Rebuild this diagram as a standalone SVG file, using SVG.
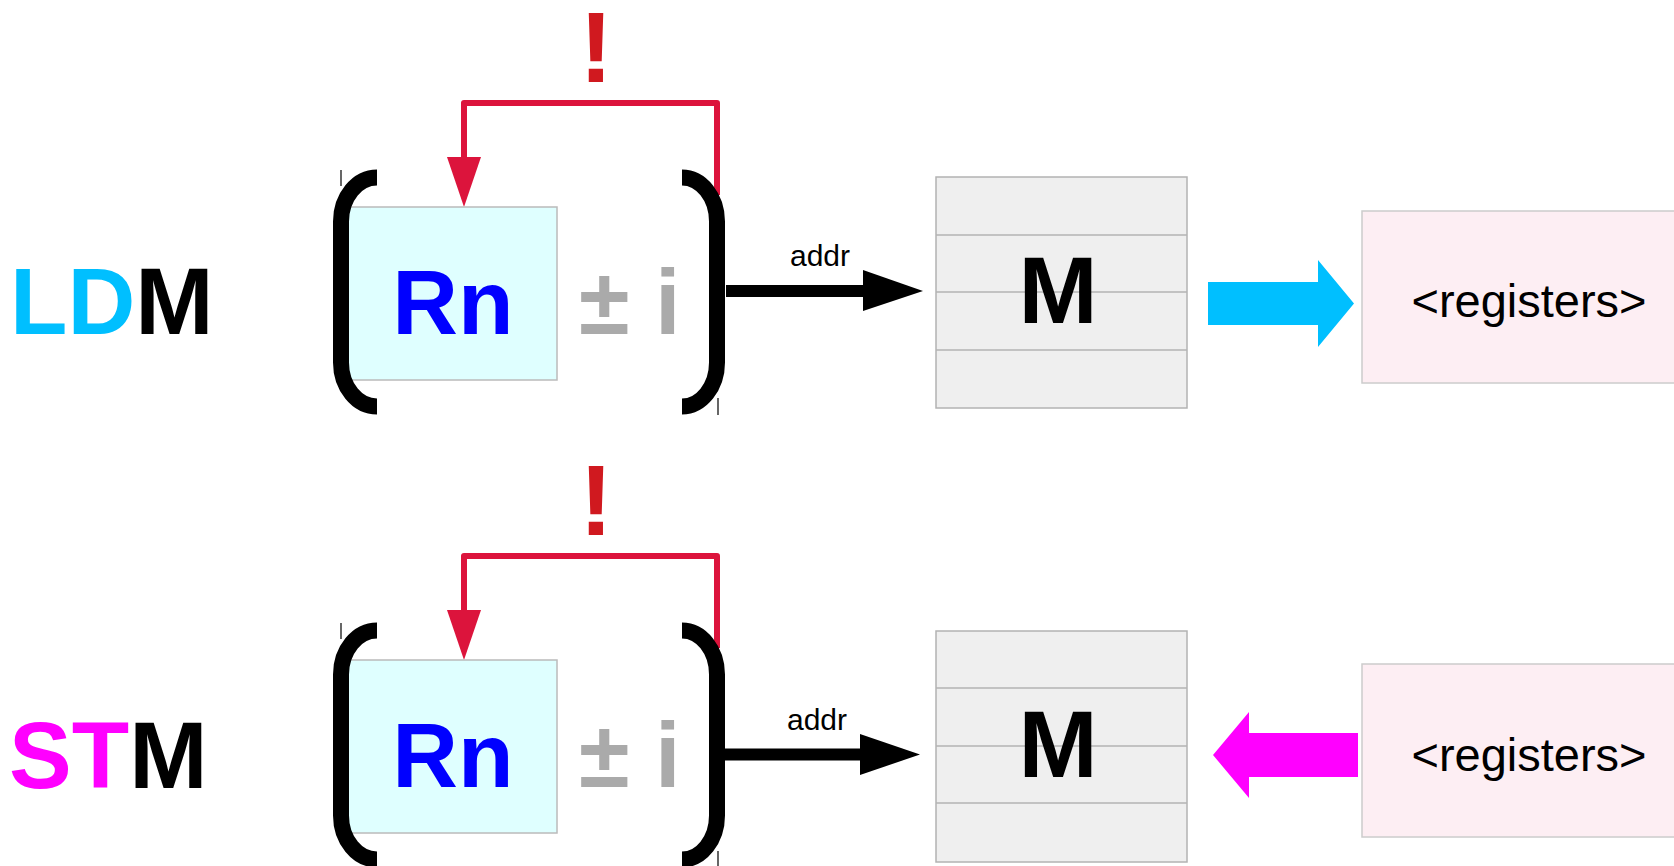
<svg xmlns="http://www.w3.org/2000/svg" width="1674" height="866" viewBox="0 0 1674 866">
<style>
text{font-family:"Liberation Sans",Arial,sans-serif}
.big{font-size:94px;font-weight:bold}
.bang{font-size:101px;font-weight:bold;fill:#d0191f;text-anchor:middle}
.rn{fill:#0000ff;font-size:91px;font-weight:bold;text-anchor:middle}
.pm{fill:#aaaaaa;font-size:92px;font-weight:bold}
.addr{font-size:30px;text-anchor:middle}
.mt{font-size:95px;font-weight:bold;text-anchor:middle}
.reg{font-size:47px;text-anchor:middle}
.rnbox{fill:#dfffff;stroke:#bbbbbb;stroke-width:1.5}
.mbox{fill:#efefef;stroke:#b3b3b3;stroke-width:1.5}
.mline{stroke:#b3b3b3;stroke-width:1.5}
.regbox{fill:#fdeef3;stroke:#cccccc;stroke-width:1.5}
.brk{fill:none;stroke:#000;stroke-width:16}
.tick{stroke:#000;stroke-width:1.2}
.red{fill:none;stroke:#dc143c;stroke-width:6;stroke-linejoin:round}
</style>
<g id="connectors">
  <path class="red" d="M717 195 L717 103 L464 103 L464 160"/>
  <polygon points="447,157 481,157 464,207" fill="#dc143c"/>
  <path class="red" d="M717 648 L717 556 L464 556 L464 613"/>
  <polygon points="447,610 481,610 464,660" fill="#dc143c"/>
  <line x1="726" y1="291" x2="865" y2="291" stroke="#000" stroke-width="12"/>
  <polygon points="863,270 923,291 863,311" fill="#000"/>
  <line x1="722" y1="754.5" x2="862" y2="754.5" stroke="#000" stroke-width="12"/>
  <polygon points="860,734 920,754.5 860,775" fill="#000"/>
  <polygon points="1208,282 1318,282 1318,260 1354,303.5 1318,347 1318,325 1208,325" fill="#00bfff"/>
  <polygon points="1358,733 1249,733 1249,712 1213,755 1249,798 1249,777 1358,777" fill="#ff00ff"/>
</g>
<g id="ldm-label">
  <text x="10" y="334" class="big"><tspan fill="#00bfff">LD</tspan><tspan fill="#000">M</tspan></text>
</g>
<g id="stm-label">
  <text x="9" y="788" class="big"><tspan fill="#ff00ff">ST</tspan><tspan fill="#000">M</tspan></text>
</g>
<g id="bang1"><text x="596" y="82" class="bang">!</text></g>
<g id="bang2"><text x="596" y="535" class="bang">!</text></g>
<g id="rn1">
  <rect class="rnbox" x="348" y="207" width="209" height="173"/>
  <text x="453" y="334" class="rn">Rn</text>
</g>
<g id="rn2">
  <rect class="rnbox" x="348" y="660" width="209" height="173"/>
  <text x="453" y="787" class="rn">Rn</text>
</g>
<g id="offset1"><text x="579" y="334" class="pm">± i</text></g>
<g id="offset2"><text x="579" y="787" class="pm">± i</text></g>
<g id="brackets1">
  <path class="brk" d="M377 177.5 A36 44 0 0 0 341 221.5 L341 362.5 A36 44 0 0 0 377 406.5"/>
  <path class="brk" d="M682 177.5 A35 44 0 0 1 717 221.5 L717 362.5 A35 44 0 0 1 682 406.5"/>
  <line class="tick" x1="341" y1="170" x2="341" y2="186"/>
  <line class="tick" x1="718" y1="398" x2="718" y2="415"/>
</g>
<g id="brackets2">
  <path class="brk" d="M377 630.5 A36 44 0 0 0 341 674.5 L341 815.5 A36 44 0 0 0 377 859.5"/>
  <path class="brk" d="M682 630.5 A35 44 0 0 1 717 674.5 L717 815.5 A35 44 0 0 1 682 859.5"/>
  <line class="tick" x1="341" y1="623" x2="341" y2="639"/>
  <line class="tick" x1="718" y1="851" x2="718" y2="866"/>
</g>
<g id="addr1"><text x="820" y="266" class="addr">addr</text></g>
<g id="addr2"><text x="817" y="730" class="addr">addr</text></g>
<g id="mem1">
  <rect class="mbox" x="936" y="177" width="251" height="231"/>
  <line class="mline" x1="936" y1="235" x2="1187" y2="235"/>
  <line class="mline" x1="936" y1="292" x2="1187" y2="292"/>
  <line class="mline" x1="936" y1="350" x2="1187" y2="350"/>
  <text x="1058" y="323" class="mt">M</text>
</g>
<g id="mem2">
  <rect class="mbox" x="936" y="631" width="251" height="231"/>
  <line class="mline" x1="936" y1="688" x2="1187" y2="688"/>
  <line class="mline" x1="936" y1="746" x2="1187" y2="746"/>
  <line class="mline" x1="936" y1="803" x2="1187" y2="803"/>
  <text x="1058" y="777" class="mt">M</text>
</g>
<g id="regs1">
  <rect class="regbox" x="1362" y="211" width="330" height="172"/>
  <text x="1529" y="317" class="reg">&lt;registers&gt;</text>
</g>
<g id="regs2">
  <rect class="regbox" x="1362" y="664" width="330" height="173"/>
  <text x="1529" y="771" class="reg">&lt;registers&gt;</text>
</g>
</svg>
